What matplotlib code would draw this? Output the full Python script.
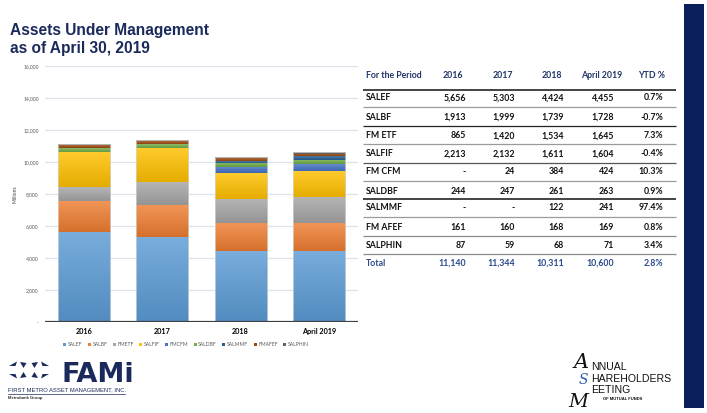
import numpy as np
import matplotlib
matplotlib.use("Agg")
import matplotlib.pyplot as plt
from matplotlib.patches import Rectangle, Polygon
from matplotlib.ticker import FuncFormatter
from matplotlib.colors import to_rgb

W, H = 707, 413

# Data
periods = ["2016", "2017", "2018", "April 2019"]
funds = ["SALEF", "SALBF", "FMETF", "SALFIF", "FMCFM", "SALDBF", "SALMMF", "FMAFEF", "SALPHIN"]
fund_labels = ["SALEF", "SALBF", "FM ETF", "SALFIF", "FM CFM", "SALDBF", "SALMMF", "FM AFEF", "SALPHIN"]
salef = [5656, 5303, 4424, 4455]
salbf = [1913, 1999, 1739, 1728]
fmetf = [865, 1420, 1534, 1645]
salfif = [2213, 2132, 1611, 1604]
fmcfm = [0, 24, 384, 424]
saldbf = [244, 247, 261, 263]
salmmf = [0, 0, 122, 241]
fmafef = [161, 160, 168, 169]
salphin = [87, 59, 68, 71]
totals = [11140, 11344, 10311, 10600]
ytd = ["0.7%", "-0.7%", "7.3%", "-0.4%", "10.3%", "0.9%", "97.4%", "0.8%", "3.4%"]
total_ytd = "2.8%"
series = [salef, salbf, fmetf, salfif, fmcfm, saldbf, salmmf, fmafef, salphin]
colors = ["#5B9BD5", "#ED7D31", "#A5A5A5", "#FFC000", "#4472C4",
          "#70AD47", "#255E91", "#9E480E", "#636363"]

NAVY = "#1b2a5c"
FONT = "Lato"

fig = plt.figure(figsize=(W / 100, H / 100), dpi=100)
fig.patch.set_facecolor("white")

# overlay in pixel coordinates for table, title, logos
ov = fig.add_axes([0, 0, 1, 1])
ov.set_xlim(0, W)
ov.set_ylim(H, 0)
ov.axis("off")
ov.patch.set_alpha(0)

# ---- chart ----
ax = fig.add_axes([45 / W, 1 - 322 / H, 313 / W, 256 / H])
x = np.arange(len(periods))
bottom = np.zeros(len(periods))
bw = 0.665


def mix(c, t, f):
    c = np.array(to_rgb(c))
    t = np.array(to_rgb(t))
    return c * (1 - f) + t * f


for vals, col, name in zip(series, colors, funds):
    bars = ax.bar(x, vals, bw, bottom=bottom, color=col, label=name, zorder=2, linewidth=0)
    top_c = mix(col, "white", 0.18)
    bot_c = mix(col, "black", 0.10)
    grad = np.linspace(0, 1, 64)[:, None, None] * (bot_c - top_c) + top_c
    for r in bars:
        if r.get_height() <= 0:
            continue
        im = ax.imshow(grad, extent=(r.get_x(), r.get_x() + r.get_width(),
                                     r.get_y(), r.get_y() + r.get_height()),
                       origin="upper", aspect="auto", zorder=3)
        im.set_clip_path(r)
    bottom += np.array(vals)

# light outline around each stacked bar
for xi, tot in zip(x, bottom):
    ax.add_patch(Rectangle((xi - bw / 2, 0), bw, tot, fill=False,
                           edgecolor="#d6d6d6", lw=0.5, zorder=4))

ax.set_xlim(-0.5, 3.5)
ax.set_ylim(0, 16000)
ax.set_yticks(np.arange(0, 16001, 2000))
ax.yaxis.set_major_formatter(FuncFormatter(lambda v, p: "-" if v == 0 else f"{int(v):,}"))
ax.grid(axis="y", color="#dfe2ea", lw=0.9, zorder=0)
ax.set_axisbelow(True)
for s in ax.spines.values():
    s.set_visible(False)
ax.axhline(0, color="#404040", lw=1.6, zorder=5)
ax.tick_params(axis="y", length=0, pad=4.5, labelsize=3.6, labelcolor="#595959")
ax.tick_params(axis="x", length=0, pad=4, labelsize=5.2)
ax.set_xticks(x)
ax.set_xticklabels(periods, fontweight="bold", family=FONT)
for t in ax.get_yticklabels():
    t.set_family(FONT)
ax.set_ylabel("Millions", fontsize=3.6, color="#404040", family=FONT, labelpad=4)

leg = ax.legend(loc="center", bbox_to_anchor=(186 / W, 1 - 345 / H),
                bbox_transform=fig.transFigure, ncol=9, frameon=False,
                prop={"family": FONT, "size": 3.6}, handlelength=0.6,
                handleheight=0.6, handletextpad=0.3, columnspacing=1.1)
for t in leg.get_texts():
    t.set_color("#595959")

# ---- title ----
ov.text(10, 35, "Assets Under Management", fontsize=11.2, fontweight="bold",
        family="Liberation Sans", color=NAVY, va="baseline")
ov.text(10, 53.5, "as of April 30, 2019", fontsize=11.2, fontweight="bold",
        family="Liberation Sans", color=NAVY, va="baseline")

# ---- table ----
hdr_color = "#1f3468"
col_centers = [453, 503, 552, 602, 652]
col_rights = [466, 515, 564, 614, 663]
ov.text(366, 75, "For the Period", fontsize=6.3, fontweight="bold", family=FONT,
        color=hdr_color, va="center", ha="left")
for cx, h in zip(col_centers, periods + ["YTD %"]):
    ov.text(cx, 75, h, fontsize=6.3, fontweight="bold", family=FONT,
            color=hdr_color, va="center", ha="center")

row_y = [98, 117, 136, 154, 172, 191, 208, 227, 245]


def fmt(v):
    return "-" if v == 0 else f"{v:,}"


for i, (lab, vals) in enumerate(zip(fund_labels, series)):
    y = row_y[i]
    ov.text(366, y, lab, fontsize=6.3, fontweight="bold", family=FONT,
            color="#111111", va="center", ha="left")
    for j, v in enumerate(vals):
        ov.text(col_rights[j], y, fmt(v), fontsize=6.3, fontweight="bold",
                family=FONT, color="#111111", va="center", ha="right")
    ov.text(col_rights[4], y, ytd[i], fontsize=6.3, fontweight="bold",
            family=FONT, color="#111111", va="center", ha="right")

tot_color = "#2b4a8c"
ov.text(366, 263, "Total", fontsize=6.3, fontweight="bold", family=FONT,
        color=tot_color, va="center", ha="left")
for j, v in enumerate(totals):
    ov.text(col_rights[j], 263, fmt(v), fontsize=6.3, fontweight="bold",
            family=FONT, color=tot_color, va="center", ha="right")
ov.text(col_rights[4], 263, total_ytd, fontsize=6.3, fontweight="bold",
        family=FONT, color=tot_color, va="center", ha="right")

line_y = [90, 107, 126, 144, 163, 181, 199, 217, 236, 254]
line_c = ["#111111", "#9a9a9a", "#222222", "#9a9a9a", "#555555",
          "#9a9a9a", "#111111", "#9a9a9a", "#8a8a8a", "#8a8a8a"]
for ly, lc in zip(line_y, line_c):
    ov.plot([363, 676], [ly, ly], color=lc, lw=1.1 if lc == "#111111" else 0.9,
            solid_capstyle="butt")

# ---- right navy band ----
ov.add_patch(Rectangle((684, 4), 20, 404, color="#0a1f5c", lw=0))

# ---- FAMI logo ----
shape_tl = [[(9, 366), (17, 361.5), (15.5, 366)], [(20, 362), (26.5, 363), (23.5, 368)]]
for sx in (1, -1):
    for sy in (1, -1):
        for shp in shape_tl:
            pts = [(29 + sx * (px - 29), 370 + sy * (py - 370)) for px, py in shp]
            ov.add_patch(Polygon(pts, closed=True, color=NAVY, lw=0))
ov.text(61, 382.5, "FAMi", fontsize=19.5, fontweight="bold", family="DejaVu Sans",
        color=NAVY, va="baseline", ha="left")
ov.text(8, 389.5, "FIRST METRO ASSET MANAGEMENT, INC.", fontsize=4.2,
        family="Liberation Sans", color=NAVY, va="center", ha="left")
ov.plot([8, 125], [393.5, 393.5], color=NAVY, lw=0.5)
ov.text(8, 397.5, "Metrobank Group", fontsize=3.0, fontweight="bold",
        family="Liberation Sans", color="#333333", va="center", ha="left")

# ---- ASM logo ----
ov.text(574, 368.5, "A", fontsize=15, fontstyle="italic", family="DejaVu Serif",
        color="#111111", va="baseline", ha="left")
ov.text(579, 384.5, "S", fontsize=10, fontstyle="italic", family="DejaVu Serif",
        color="#2f5ea8", va="baseline", ha="left")
ov.text(568, 407, "M", fontsize=14, fontstyle="italic", family="DejaVu Serif",
        color="#111111", va="baseline", ha="left")
ov.text(591, 367, "NNUAL", fontsize=7.6, family="Liberation Sans", color="#111111",
        va="center", ha="left")
ov.text(591, 378.5, "HAREHOLDERS", fontsize=7.6, family="Liberation Sans",
        color="#111111", va="center", ha="left")
ov.text(591, 390, "EETING", fontsize=7.6, family="Liberation Sans", color="#111111",
        va="center", ha="left")
ov.text(603, 399.5, "OF MUTUAL FUNDS", fontsize=3.0, fontweight="bold",
        family="Liberation Sans", color="#111111", va="center", ha="left")

fig.savefig("out.png", dpi=100)
